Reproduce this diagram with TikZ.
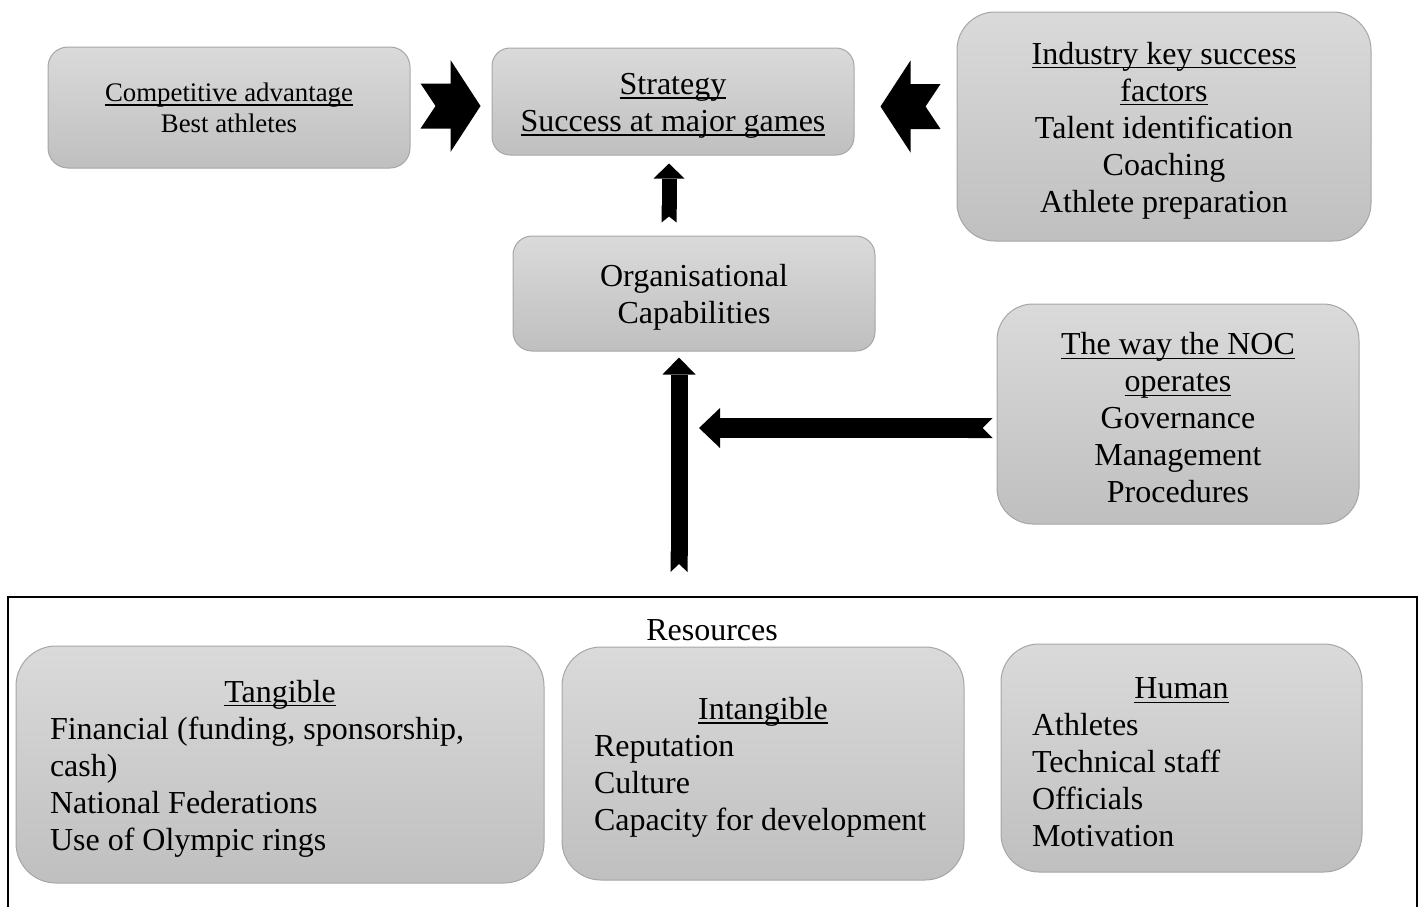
\documentclass[tikz,border=0pt]{standalone}
\usepackage{fontspec}
\setmainfont{Liberation Serif}
\usetikzlibrary{positioning,calc,arrows.meta}
\setlength{\parindent}{0pt}
\newcommand{\mainsize}{\fontsize{16pt}{18.5pt}\selectfont}
\newcommand{\minorsize}{\fontsize{13.4pt}{15.5pt}\selectfont}
\newcommand{\uln}[1]{\leavevmode\setbox0\hbox{#1}\rlap{\rule[-2.2pt]{\wd0}{0.85pt}}\box0}
\tikzset{box/.style={draw=gray!70,line width=0.5pt,top color=gray!29,bottom color=gray!50,align=center,inner sep=0pt,font=\mainsize},
         mainbox/.style={box,align=flush center,execute at begin node={\rule{0pt}{15pt}}},
         listbox/.style={mainbox,align=flush left},
         upsmall/.style={line width=7.5pt,{Triangle Cap[reversed,length=3pt]}-{Triangle[length=7.5pt,width=15.5pt,line width=0pt]}},
         uplong/.style={line width=8.5pt,{Triangle Cap[reversed,length=4pt]}-{Triangle[length=8.5pt,width=16.5pt,line width=0pt]}},
         across/.style={line width=10pt,{Triangle Cap[reversed,length=5pt]}-{Triangle[length=10.5pt,width=20pt,line width=0pt]}}
}
\tikzstyle{frame} = [draw,line width=1pt,minimum width=704.5pt,minimum height=160pt]
\newcommand{\chevron}{(0,-22.5) -- (30,-22.5) -- (30,-46) -- (60,0) -- (30,46) -- (30,22.5) -- (0,22.5) -- (15,0) -- cycle}

\begin{document}
\begin{tikzpicture}[x=0.5pt,y=-0.5pt]
\useasboundingbox (0,0) rectangle (1422,906);

\node[box,minimum width=181pt,minimum height=60.5pt,rounded corners=10pt,font=\minorsize] (comp) at (229,107.5) {\uln{Competitive advantage}\\Best athletes};
\node[mainbox,minimum width=181pt,minimum height=53.5pt,text width=171pt,rounded corners=9pt] (strat) at (673,101.5) {\uln{Strategy}\\\uln{Success at major games}};
\node[mainbox,minimum width=207pt,minimum height=114.5pt,text width=197pt,rounded corners=19pt] (ksf) at (1164,126.5) {\uln{Industry key success}\\\uln{factors}\\Talent identification\\Coaching\\Athlete preparation};
\node[mainbox,minimum width=181pt,minimum height=57.5pt,text width=171pt,rounded corners=9.5pt] (org) at (694,293.5) {Organisational\\Capabilities};
\node[mainbox,minimum width=181pt,minimum height=110pt,text width=171pt,rounded corners=18pt] (noc) at (1178,414) {\uln{The way the NOC}\\\uln{operates}\\Governance\\Management\\Procedures};

\node[frame] (res) at (712.5,757) {};
\node[font=\mainsize,inner sep=0pt] (reslabel) at (712,630) {Resources};
\node[listbox,minimum width=264pt,minimum height=118.5pt,text width=230pt,rounded corners=20pt] (tang) at (280,764.5) {\noindent\makebox[\hsize]{\uln{Tangible}}\\Financial (funding, sponsorship,\\cash)\\National Federations\\Use of Olympic rings};
\node[listbox,minimum width=201pt,minimum height=116.5pt,text width=169pt,rounded corners=19.5pt] (intang) at (763,763.5) {\noindent\makebox[\hsize]{\uln{Intangible}}\\Reputation\\Culture\\Capacity for development};
\node[listbox,minimum width=180.5pt,minimum height=114pt,text width=149.5pt,rounded corners=19pt] (human) at (1181.5,758) {\noindent\makebox[\hsize]{\uln{Human}}\\Athletes\\Technical staff\\Officials\\Motivation};

\coordinate (ca) at ([xshift=5pt,yshift=0.75pt]comp.east);
\coordinate (cb) at ([xshift=-8pt,yshift=10pt]ksf.west);
\coordinate (meet) at (699,428);
\fill[shift={(ca)}] \chevron;
\fill[shift={(cb)},xscale=-1] \chevron;
\draw[upsmall] ([xshift=-12.5pt,yshift=6.5pt]org.north) -- ([xshift=-2pt,yshift=-4pt]strat.south);
\draw[uplong] ([xshift=-16.75pt,yshift=12pt]res.north) -- ([xshift=-7.5pt,yshift=-3pt]org.south);
\draw[across] ([xshift=-2pt,yshift=-7pt]noc.west) -- (meet);

\end{tikzpicture}
\end{document}
